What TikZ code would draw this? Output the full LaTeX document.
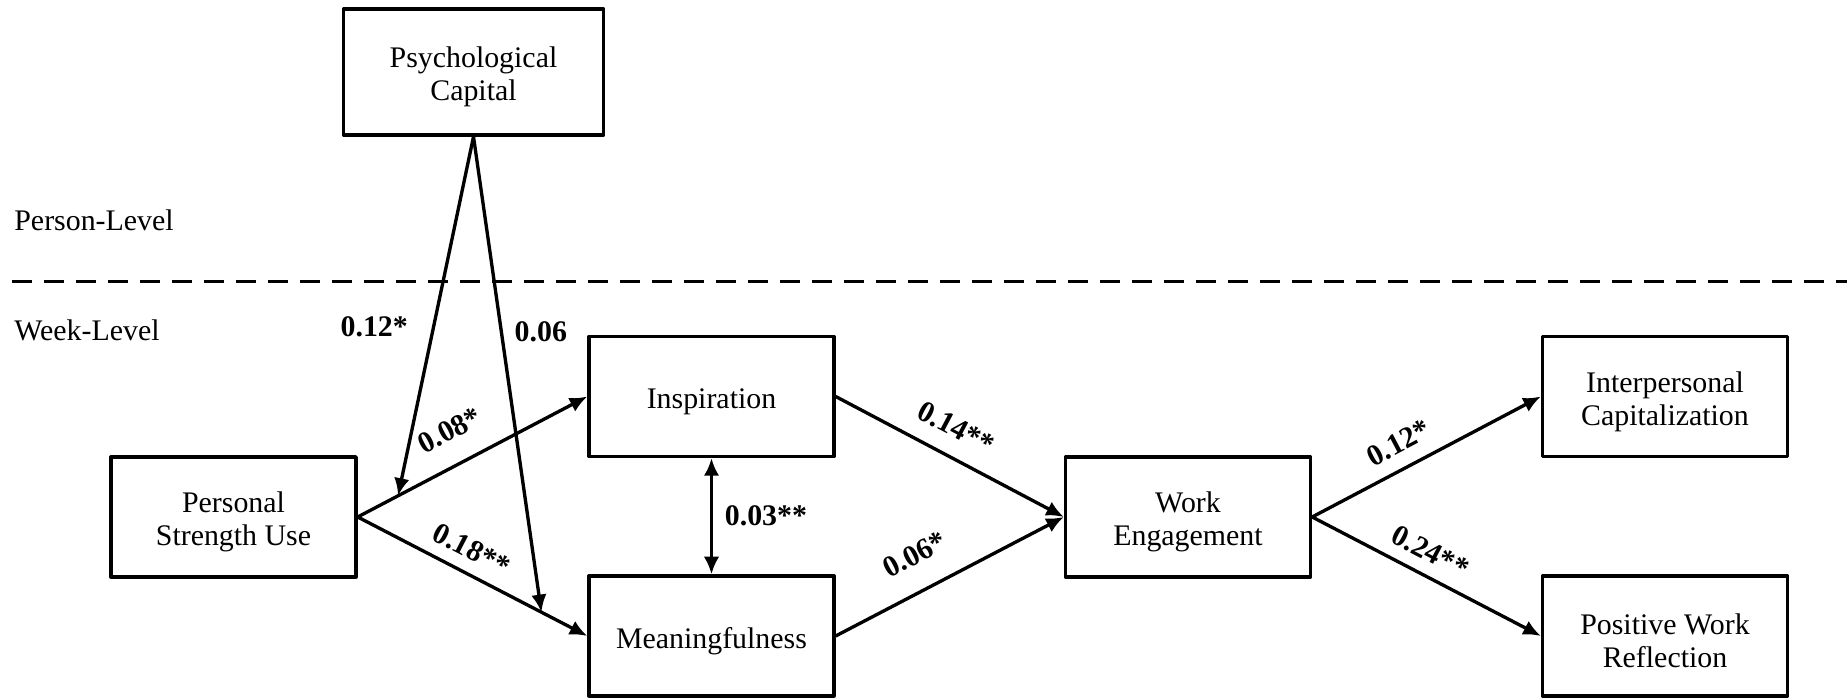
\documentclass[tikz,border=0pt]{standalone}
\usepackage{fontspec}
\setmainfont{Liberation Serif}
\usetikzlibrary{arrows.meta}
\newcommand{\topstrut}{\rule{0pt}{0.31cm}}
\tikzset{
	varbox/.style={draw, minimum width=2.45cm, minimum height=1.2cm, align=center, inner sep=0pt},
	coef/.style={font=\fontsize{8.5}{9.5}\selectfont\bfseries},
}
\begin{document}
\begin{tikzpicture}[font=\fontsize{8.5}{9.4}\selectfont, line join=round, line width=0.95pt, >={Latex[length=5pt,width=4.4pt]}]
	%%%%%%%%%%%%%%%%%%%%%%%%%%%%%%%%%
	\useasboundingbox (0,0) rectangle (18.47,6.99);
	\coordinate (L) at (0.12,4.175);
	\coordinate (R) at (18.47,4.175);
	%%%%%%%%%%%%%%%%%%%%%%%%%%%%%%%%%
	\node[varbox, minimum width=2.6cm, minimum height=1.26cm] (psycap) at (4.735,6.27) {\topstrut Psychological\\Capital};
	\node[varbox] (psu) at (2.335,1.82) {\topstrut Personal\\Strength Use};
	\node[varbox] (insp) at (7.115,3.025) {\topstrut Inspiration};
	\node[varbox] (mean) at (7.115,0.63) {\topstrut Meaningfulness};
	\node[varbox] (we) at (11.88,1.82) {\topstrut Work\\Engagement};
	\node[varbox] (ic) at (16.65,3.025) {\topstrut Interpersonal\\Capitalization};
	\node[varbox] (pwr) at (16.65,0.63) {\topstrut Positive Work\\Reflection};
	%%%%%%%%%%%%%%%%%%%%%%%%%%%%%%%%%
	\draw[dashed, dash pattern=on 0.2cm off 0.12cm] (L) -- (R);
	\node[anchor=west] (person) at (0.01,4.79) {Person-Level};
	\node[anchor=west] (week) at (0.01,3.69) {Week-Level};
	%%%%%%%%%%%%%%%%%%%%%%%%%%%%%%%%%
	\draw[->] (psu.east) -- node[coef, sloped, above=3pt, pos=0.47] {0.08*} coordinate[pos=0.176] (hitI) (insp.west);
	\draw[->] (psu.east) -- node[coef, sloped, above, pos=0.45] {0.18**} coordinate[pos=0.8] (hitM) (mean.west);
	\draw[->] (psycap.south) -- node[coef, left=3.5pt, pos=0.53] {0.12*} (hitI);
	\draw[->] (psycap.south) -- node[coef, right, pos=0.41] {0.06} (hitM);
	\draw[<->] (insp.south) -- node[coef, right=0pt] {0.03**} (mean.north);
	%%%%%%%%%%%%%%%%%%%%%%%%%%%%%%%%%
	\draw[->] (insp.east) -- node[coef, sloped, above=1.5pt, pos=0.47] {0.14**} (we.west);
	\draw[->] (mean.east) -- node[coef, sloped, above=3.5pt, pos=0.42] {0.06*} (we.west);
	\draw[->] (we.east) -- node[coef, sloped, above=0.5pt, pos=0.43] {0.12*} (ic.west);
	\draw[->] (we.east) -- node[coef, sloped, above, pos=0.47] {0.24**} (pwr.west);
	%%%%%%%%%%%%%%%%%%%%%%%%%%%%%%%%%
\end{tikzpicture}
\end{document}
